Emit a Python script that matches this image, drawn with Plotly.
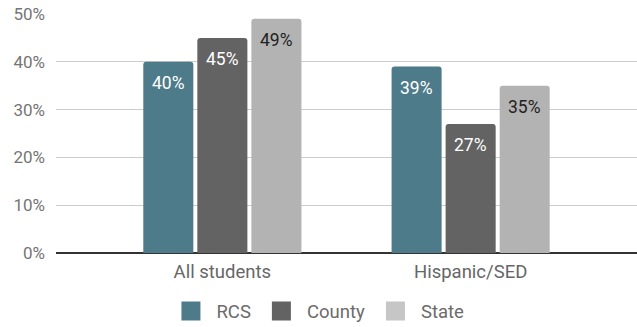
import plotly.graph_objects as go

categories = ["All students", "Hispanic/SED"]
series_names = ["RCS", "County", "State"]
rcs = [0.40, 0.39]
county = [0.45, 0.27]
state = [0.49, 0.35]
y_ticks = [0, 0.1, 0.2, 0.3, 0.4, 0.5]

colors = ["#4e7b8a", "#636363", "#b3b3b3"]
legend_colors = ["#4e7b8a", "#636363", "#c6c6c6"]
text_colors = ["#ffffff", "#ffffff", "#222222"]

BARGAP = 0.347
fig = go.Figure()
series = [rcs, county, state]
for i, (name, vals, c, lc) in enumerate(zip(series_names, series, colors, legend_colors)):
    fig.add_trace(go.Bar(
        x=categories, y=vals, name=name, showlegend=False,
        marker=dict(color=c, line=dict(width=0)),
        hoverinfo="y",
    ))
    # legend proxy
    fig.add_trace(go.Scatter(
        x=[None], y=[None], name=name, mode="markers",
        marker=dict(symbol="square", size=16, color=lc, line=dict(color=lc, width=3)),
    ))

# value labels placed from the data via axis coordinates
pitch = (1 - BARGAP) / 3
for i, (vals, tc) in enumerate(zip(series, text_colors)):
    for j, v in enumerate(vals):
        fig.add_annotation(
            x=j + (i - 1) * pitch, y=v, xref="x", yref="y",
            text=f"{v*100:.0f}%", showarrow=False, yshift=-21, yanchor="middle",
            font=dict(color=tc, size=17.5, family="Roboto"),
        )

fig.update_layout(
    width=637, height=327,
    margin=dict(l=56, r=0, t=14, b=74, autoexpand=False),
    paper_bgcolor="white", plot_bgcolor="white",
    barmode="group", bargap=BARGAP, bargroupgap=0.074,
    barcornerradius=3,
    font=dict(family="Roboto", size=18, color="#555555"),
    showlegend=True,
    legend=dict(orientation="h", x=0.45, xanchor="center", y=-0.165, yanchor="top",
                font=dict(size=18.5, color="#6b6b6b"), itemwidth=41,
                traceorder="normal"),
)
fig.update_xaxes(range=[-0.67, 1.67], showgrid=False, showline=False, ticks="",
                 tickfont=dict(size=18.5, color="#666666"), zeroline=False,
                 ticklabelstandoff=5)
fig.update_yaxes(range=[0, 0.5], tickvals=y_ticks, tickformat=".0%",
                 gridcolor="#cccccc", gridwidth=1, zeroline=True, zerolinecolor="#333333",
                 zerolinewidth=1.5, showline=False, ticks="", ticklabelstandoff=10,
                 tickfont=dict(size=17, color="#757575"))

fig.write_html("out.html")
